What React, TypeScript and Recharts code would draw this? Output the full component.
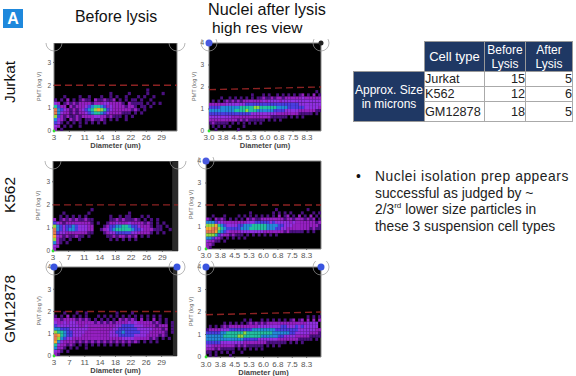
import { ScatterChart, Scatter, XAxis, YAxis, ReferenceArea, ReferenceLine, ReferenceDot } from 'recharts';

const FONT = '"Liberation Sans", Arial, sans-serif';

// density levels, dim purple -> hot orange
const LEVEL_COLORS = ['#000000', '#4a1080', '#9420c0', '#9030e0', '#4a3ce0', '#2488d8', '#22c0a0', '#90d840', '#f4a830', '#e07850'];

const BEFORE_TICKS = [3, 6.75, 10.5, 14.25, 18, 21.75, 25.5, 29.25];
const AFTER_TICKS = [3, 3.75, 4.5, 5.25, 6, 6.75, 7.5, 8.25];
const PMT_TICKS = [0, 1, 2, 3];
const PMT_TICKS_FULL = [0, 1, 2, 3, 4];

// PMT bin centres, top row first. columns span the x axis in 40 equal bins
const PMT_BINS = [1.93, 1.79, 1.64, 1.5, 1.36, 1.21, 1.07, 0.93, 0.79, 0.64, 0.5, 0.36, 0.21, 0.07];

const jurkatBefore = [
  '........................................',
  '..............................1.........',
  '..................1.....1.....1....1....',
  '...1....1..1...1..1.1..1...1.1..1.......',
  '1.1.2.1.1211.2112112.1.1.11.1..1........',
  '32.12121222212223322221.21111.1.1.1.....',
  '6422.2122234566542322221221.11.1........',
  '9543212123456787643222222121.1..........',
  '9532212122345665432222111.1.1...........',
  '7421211212222332212111.1.1..............',
  '5321.2121.1121121.1.1..1................',
  '431.1.1.1.1.1.1.1.......................',
  '32.1.1..1...............................',
  '2.1.....................................',
];
const jurkatAfter = [
  '........................................',
  '......................................1.',
  '...............1...1.1..1.1.1.1.12.1.2.1',
  '....1..1.1.1.1.1.11211212212222223222222',
  '.1.1.12121212222222323333233333333333333',
  '2222223333333444444444444444444433333333',
  '4444555555566666776666665555444444333332',
  '5555555556666766655555544443333322222211',
  '4444444444444443333333332222222211111.1.',
  '3333333322222222222222111111.1.1.1......',
  '22222222221212111111.1.1.1..............',
  '1211111.1.1.1.1.1.1.....................',
  '.1.1.1.1....1...........................',
  '..1.......1.............................',
];
const k562Before = [
  '........................................',
  '............1...........................',
  '...1.......1............1...............',
  '..1.1.1.1.1.......1..1.11...1.1.........',
  '2.12121211211.....1121211121.1.1.1......',
  '4321222222221.1..122322232222121.1.1....',
  '7543445433322...1244556654432221.11.1...',
  '9543455433322..12345666665443222111..1..',
  '9433222222211...1233444443322221.1.1....',
  '8321211211.1.....1121221212.1.1.........',
  '7211.1..1.........1.1.1.1.1.............',
  '521.1...................................',
  '32......................................',
  '2.......................................',
];
const k562After = [
  '........................................',
  '........................1..........1....',
  '...............1.......1.1.1.1...1...1.1',
  '..1...1....1.1.1.1.1.1.1.2.12.1.2.1.2.1.',
  '21.2121.1.1.1.212112222222212212221212.1',
  '5554332222222233344444343333323222222212',
  '7778654333344555666665555443332222222221',
  '8899765444445556666665554433222222221211',
  '9998654322223333333322222221211111.1.1..',
  '7776432212111.1.1.1.1.1.1...............',
  '554321.1.1.1.1..........................',
  '32211.1.................................',
  '221.....................................',
  '21......................................',
];
const gm12878Before = [
  '...1...1..1.........1....1..............',
  '1.1.2.1.1.1...1.1.1.1.1.1.1.1.1.1.1.....',
  '221222212121.1.1.1.1.212121.2.1.2.1.1...',
  '32232332222221212121222232322222121.1.1.',
  '4333333322322222222233444433322221222.1.',
  '5544433333322222222334444443333322212.1.',
  '7665443333222222223344544444333222221.1.',
  '9865443332222222223334444433332222121...',
  '9754332222222222222222333322222121.1.1..',
  '8532222121212121212121212121.1.1.1......',
  '6322121.1.1.1.1.1.1.1.1.1...............',
  '5221.1.1..1.............................',
  '321.1...................................',
  '21......................................',
];
const gm12878After = [
  '........................................',
  '...................................1.1.1',
  '.............1.1...1.1.1.1.1.12.12.2.2.2',
  '......1.1.1.1.1212121222222222222223333 ',
  '.1.1.1212222222222333333334433343433333 ',
  '1222233344444444555555554444444433333322',
  '4444455666666766666666655555544333332221',
  '5555556666677666666555555443333222221111',
  '5555555555555444443333333222222211111.1.',
  '4444433333333222222221111111.1.1.1......',
  '33222222221212111111.1.1.1..............',
  '2221211111.1.1.1.1.1....................',
  '11.1.1.1.1..1...........................',
  '.1.1....1...............................',
];

const densityTable = (rows: string[], xMin: number, xMax: number) => {
  const cols = 40;
  const step = (xMax - xMin) / cols;
  const out: { x: number; y: number; level: number }[] = [];
  rows.forEach((row, r) => {
    row.split('').forEach((ch, c) => {
      if (ch !== '.' && ch !== ' ') out.push({ x: xMin + step * (c + 0.5), y: PMT_BINS[r], level: Number(ch) });
    });
  });
  return out.sort((a, b) => a.level - b.level);
};

function Panel({ l, r, t, b, top, rows, after, title, strip, corners, tiltStart, pmtFull, tickDy, marginTop, titleOffset }: any) {
  const xMin = 3;
  const xMax = after ? 9 : 33;
  const plotW = r - l;
  const plotH = b - t;
  const cellW = plotW / 40;
  const cellH = (plotH / top) * (2 / 14);
  const ML = 30;
  const MT = marginTop;
  return (
    <div style={{ position: 'absolute', left: l - ML, top: t - MT }}>
      <ScatterChart width={plotW + ML + 10} height={plotH + MT + 24} margin={{ top: MT, right: 10, bottom: 0, left: 0 }}>
        <XAxis
          type="number"
          dataKey="x"
          domain={[xMin, xMax]}
          ticks={after ? AFTER_TICKS : BEFORE_TICKS}
          tickFormatter={(v: number) => (after ? v.toFixed(1) : String(Math.round(v)))}
          interval={0}
          height={24}
          axisLine={false}
          tickSize={1}
          tick={{ fontSize: 8, fill: '#555', fontFamily: FONT, dy: tickDy || 0 }}
          allowDataOverflow
          label={title ? { value: 'Diameter (um)', position: 'insideBottom', offset: titleOffset, fontSize: 7.5, fontWeight: 700, fill: '#444', fontFamily: FONT } : undefined}
        />
        <YAxis
          type="number"
          dataKey="y"
          domain={[0, top]}
          ticks={pmtFull ? PMT_TICKS_FULL : PMT_TICKS}
          interval={0}
          width={ML}
          axisLine={false}
          tickSize={1}
          tickMargin={after ? 4 : 2}
          tick={{ fontSize: 6.5, fill: '#555', fontFamily: FONT }}
          allowDataOverflow
          label={{ value: 'PMT (log V)', angle: -90, position: 'insideLeft', offset: 15, dy: 14, fontSize: 5.5, fill: '#666', fontFamily: FONT }}
        />
        <ReferenceArea x1={xMin} x2={xMax} y1={0} y2={top} fill="#000" fillOpacity={1} stroke="#888" strokeWidth={1} />
        {strip && <ReferenceArea x1={strip} x2={xMax} y1={0} y2={top} fill="#2a2a2a" fillOpacity={1} stroke="none" />}
        <Scatter
          data={densityTable(rows, xMin, xMax)}
          isAnimationActive={false}
          shape={(p: any) => (
            <rect
              x={p.cx - cellW / 2}
              y={p.cy - cellH / 2}
              width={cellW}
              height={cellH}
              fill={LEVEL_COLORS[p.payload.level]}
              style={{ filter: 'blur(0.6px)' }}
            />
          )}
        />
        {tiltStart ? (
          <ReferenceLine segment={[{ x: xMin, y: tiltStart }, { x: xMax, y: 2 }]} stroke="#8b2222" strokeWidth={1.4} strokeDasharray="7 4" />
        ) : (
          <ReferenceLine y={2} stroke="#8b2222" strokeWidth={1.4} strokeDasharray="7 4" />
        )}
        {corners.map((c: any, i: number) => (
          <ReferenceDot key={`ring-${i}`} x={c.side === 'l' ? xMin : xMax} y={top} r={8} fill="none" stroke="#999" strokeWidth={0.7} ifOverflow="visible" />
        ))}
        {corners.filter((c: any) => c.dot).map((c: any, i: number) => (
          <ReferenceDot key={`dot-${i}`} x={c.side === 'l' ? xMin : xMax} y={top} r={c.size || 3.5} fill={c.dot} stroke="none" ifOverflow="visible" />
        ))}
        <ReferenceDot x={xMin} y={0} r={1.4} fill="#30e030" stroke="none" ifOverflow="visible" />
      </ScatterChart>
    </div>
  );
}

const Label = ({ x, y, size, children, style }: any) => (
  <div style={{ position: 'absolute', left: x, top: y, fontSize: size, fontFamily: FONT, color: '#111', whiteSpace: 'nowrap', lineHeight: 1, ...style }}>{children}</div>
);

const RowLabel = ({ cy, text }: any) => (
  <div style={{ position: 'absolute', left: 10, top: cy, fontSize: 15.5, fontFamily: FONT, color: '#111', whiteSpace: 'nowrap', lineHeight: 1, transform: 'translate(-50%,-50%) rotate(-90deg)' }}>{text}</div>
);

const NAVY = '#1f3864';
const GRID = '1px solid #aaa';
const headCell = { background: NAVY, color: '#fff', textAlign: 'center', padding: 0, border: '1px solid #999', lineHeight: '14px', fontSize: 12 } as const;
const numCell = { textAlign: 'right', padding: 0, border: GRID, background: '#fff' } as const;
const nameCell = { textAlign: 'left', padding: 0, border: GRID, background: '#fff' } as const;

const tableRows = [
  { cell: 'Jurkat', before: 15, after: 5, h: 15 },
  { cell: 'K562', before: 12, after: 6, h: 15 },
  { cell: 'GM12878', before: 18, after: 5, h: 20 },
];

export default function App() {
  return (
    <div style={{ position: 'absolute', left: 0, top: 0, width: 576, height: 376, background: '#fff', overflow: 'hidden' }}>
      <div style={{ position: 'absolute', left: 3, top: 9, width: 20, height: 19, background: '#1e88dc', color: '#fff', fontFamily: FONT, fontWeight: 700, fontSize: 16, textAlign: 'center', lineHeight: '19px' }}>A</div>
      <Label x={75} y={9} size={15.9}>Before lysis</Label>
      <Label x={208} y={1} size={16.2}>Nuclei after lysis</Label>
      <Label x={212} y={20} size={15.5}>high res view</Label>
      <RowLabel cy={82} text="Jurkat" />
      <RowLabel cy={195} text="K562" />
      <RowLabel cy={309} text="GM12878" />

      <Panel l={54} r={177} t={43} b={131} top={3.85} rows={jurkatBefore} title titleOffset={7} marginTop={0} corners={[{ side: 'l' }, { side: 'r' }]} />
      <Panel l={209} r={321} t={43} b={131} top={4} rows={jurkatAfter} after title titleOffset={7} marginTop={4} tiltStart={1.88} pmtFull corners={[{ side: 'l', dot: '#4a5ae0' }, { side: 'r', dot: '#222', size: 2.5 }]} />
      <Panel l={53} r={178} t={161} b={251} top={3.9} rows={k562Before} strip={31.6} marginTop={0} corners={[{ side: 'l' }, { side: 'r' }]} />
      <Panel l={206} r={321} t={161} b={249} top={4} rows={k562After} after pmtFull marginTop={4} corners={[{ side: 'l', dot: '#4a5ae0' }]} />
      <Panel l={54} r={177} t={267} b={356} top={4} rows={gm12878Before} title titleOffset={7} strip={32} pmtFull marginTop={6} corners={[{ side: 'l', dot: '#3a55e0' }, { side: 'r', dot: '#3a55e0' }]} />
      <Panel l={206} r={321} t={267} b={357} top={4} rows={gm12878After} after title titleOffset={6} tickDy={1} tiltStart={1.88} pmtFull marginTop={6} corners={[{ side: 'l', dot: '#3a55e0' }, { side: 'r', dot: '#3a55e0' }]} />

      <table style={{ position: 'absolute', left: 353, top: 41, borderCollapse: 'collapse', tableLayout: 'fixed', width: 219, fontFamily: FONT, fontSize: 12.7, color: '#222' }}>
        <colgroup>
          <col style={{ width: 71 }} />
          <col style={{ width: 60 }} />
          <col style={{ width: 41 }} />
          <col style={{ width: 47 }} />
        </colgroup>
        <tbody>
          <tr style={{ height: 30 }}>
            <td style={{ padding: 0 }} />
            <td style={{ ...headCell, fontSize: 13 }}>Cell type</td>
            <td style={headCell}>Before<br />Lysis</td>
            <td style={headCell}>After<br />Lysis</td>
          </tr>
          {tableRows.map((row, i) => (
            <tr key={row.cell} style={{ height: row.h, lineHeight: '14px' }}>
              {i === 0 && <td rowSpan={3} style={headCell}>Approx. Size<br />in microns</td>}
              <td style={nameCell}>{row.cell}</td>
              <td style={numCell}>{row.before}</td>
              <td style={numCell}>{row.after}</td>
            </tr>
          ))}
        </tbody>
      </table>

      <Label x={356} y={170} size={13.8}>•</Label>
      <div style={{ position: 'absolute', left: 375, top: 169, width: 200, fontFamily: FONT, fontSize: 13.8, lineHeight: '16.7px', color: '#222', whiteSpace: 'nowrap' }}>
        <span style={{ letterSpacing: 0.55 }}>Nuclei isolation prep appears</span><br />
        successful as judged by ~<br />
        2/3<sup style={{ fontSize: 8, lineHeight: 0 }}>rd</sup> lower size particles in<br />
        these 3 suspension cell types
      </div>
    </div>
  );
}
